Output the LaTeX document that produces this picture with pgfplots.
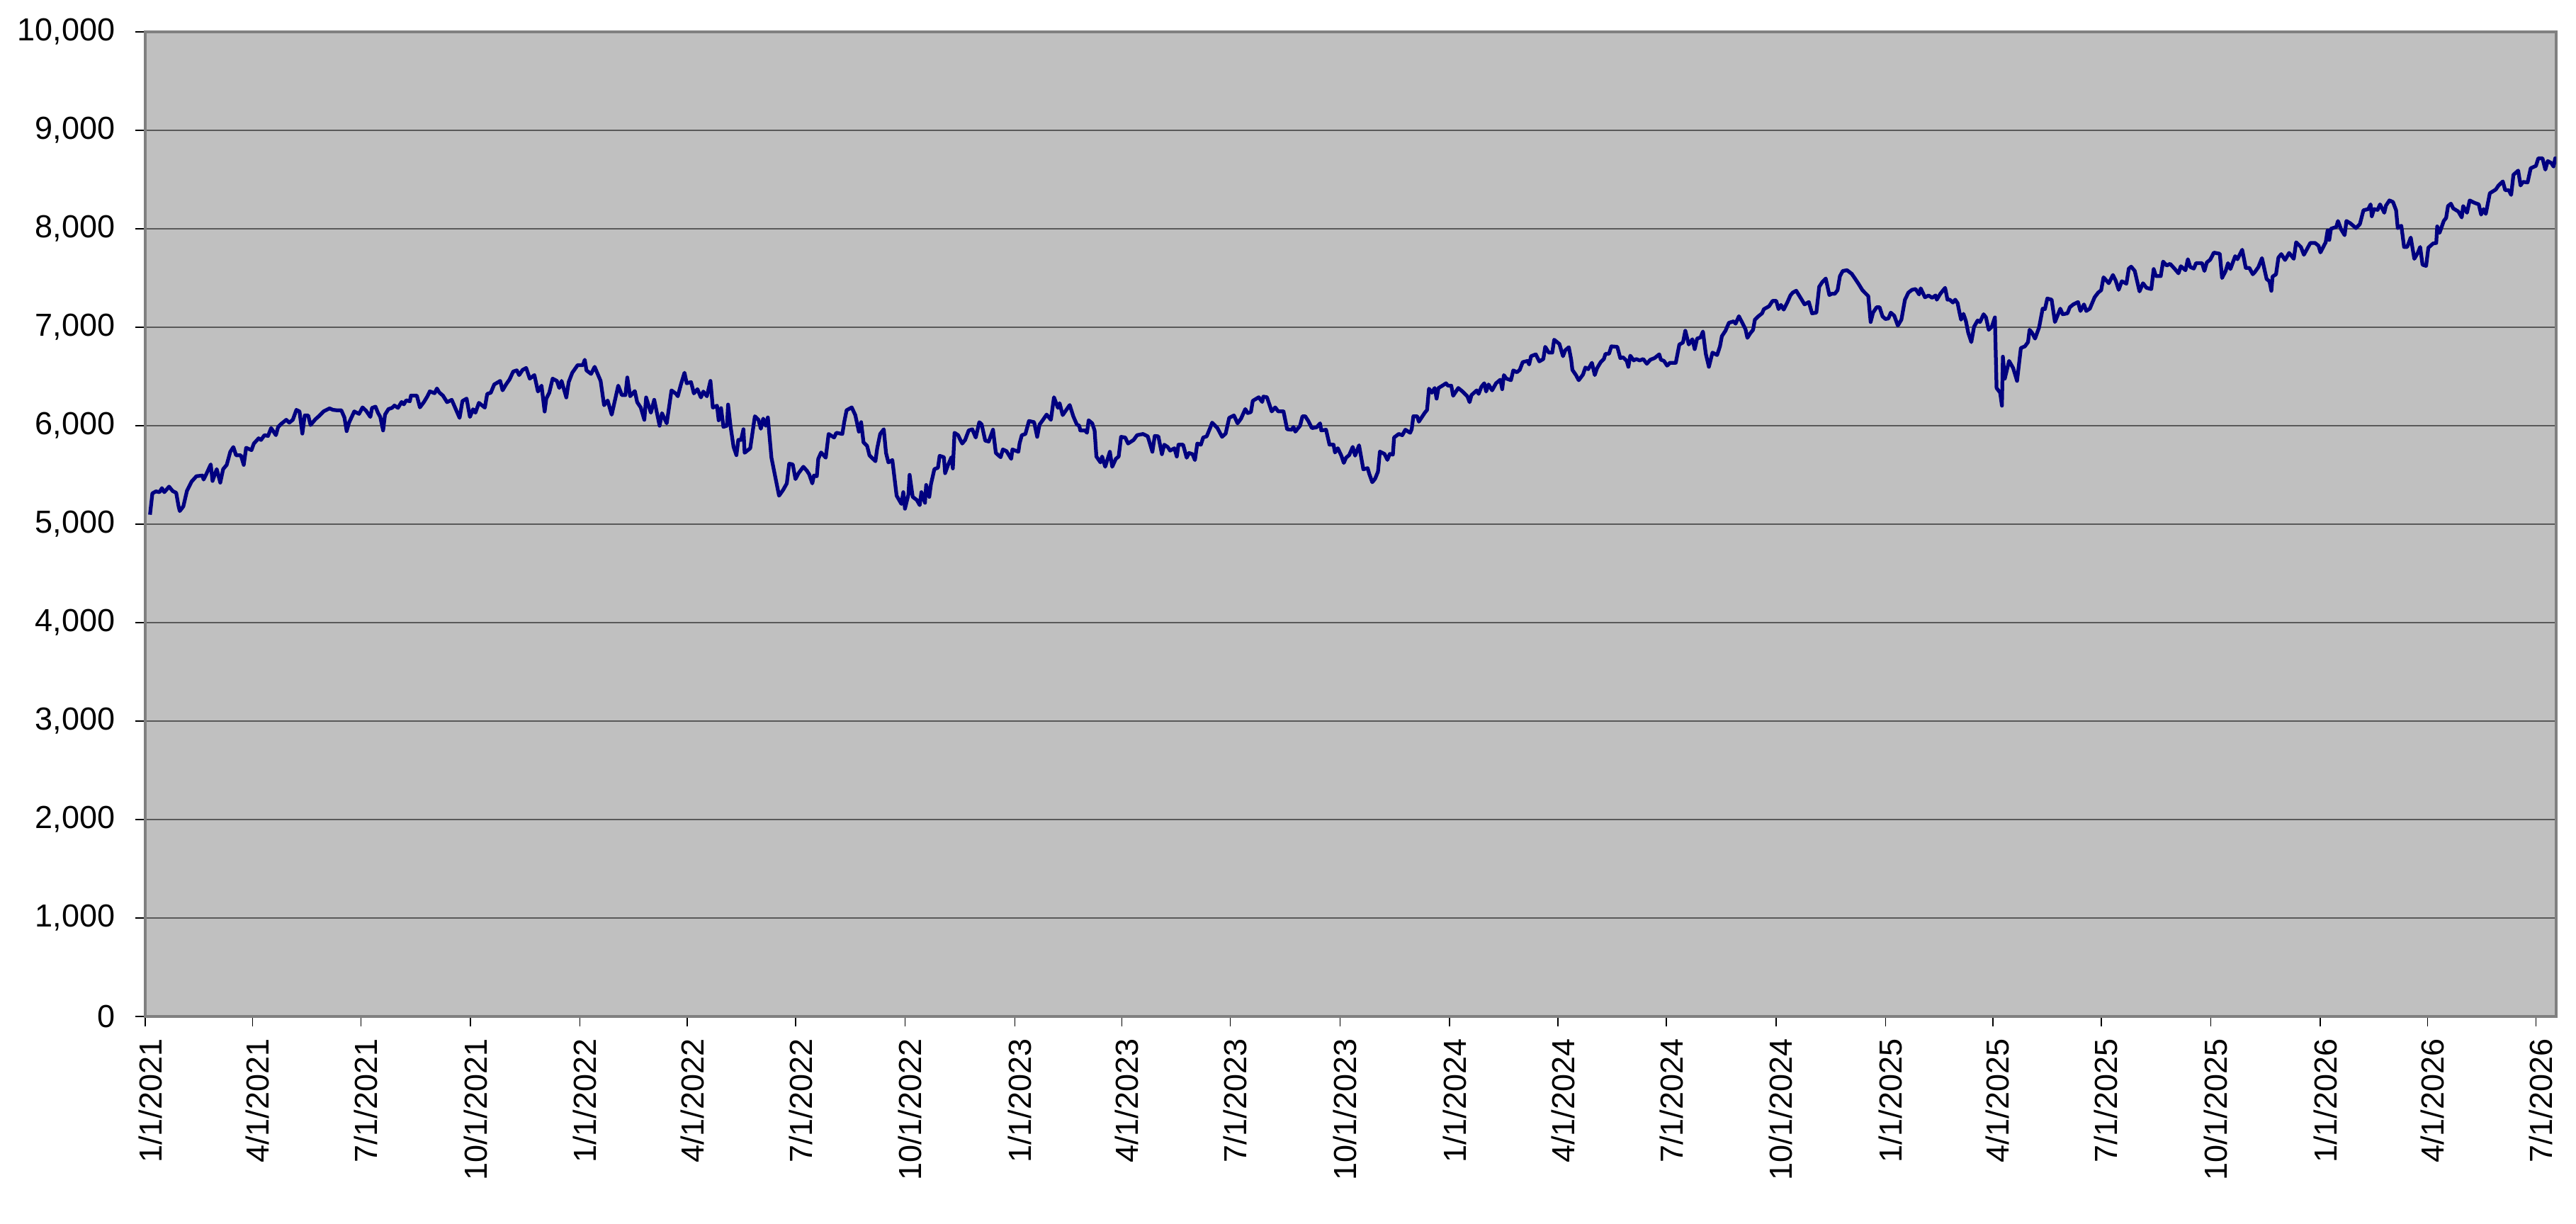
\documentclass[border=0pt]{standalone}
\usepackage{pgfplots}
\usepackage{pgfplotstable}
\pgfplotsset{compat=1.18}
\usepackage{fontspec}
\setmainfont{Liberation Sans}
\definecolor{plotbg}{RGB}{192,192,192}
\definecolor{framegray}{RGB}{128,128,128}
\definecolor{navyline}{RGB}{0,0,128}

\pgfplotstableread{
d v
4 5096
6 5313
9 5333
12 5325
14 5366
16 5325
20 5381
23 5337
26 5318
28 5181
29 5133
32 5181
35 5337
39 5434
43 5487
48 5494
49 5453
51 5501
55 5607
56.5 5439
60 5559
63 5422
65.4 5559
68.4 5602
71.4 5735
74 5783
76.3 5699
80.3 5699
82.7 5602
84.7 5776
89.2 5752
91.2 5819
95.2 5872
97.2 5855
100.1 5904
103.1 5896
105.7 5976
109.7 5904
111.6 5988
114 6017
118.4 6060
120.9 6031
123.9 6060
126.9 6161
129.5 6145
131.9 5920
133.9 6104
136.8 6104
138.8 6007
142.8 6065
145.7 6096
149.7 6145
154.7 6176
157.6 6161
160.6 6157
164.6 6157
167.2 6084
169.1 5945
171.1 6031
175.5 6145
179.5 6120
182.4 6186
185.4 6152
189 6089
190.4 6181
193.3 6193
195.3 6133
197.3 6089
199.7 5952
201.3 6113
204.2 6169
207.2 6181
209.2 6205
212.2 6181
215.2 6241
217.1 6217
219.1 6258
222.1 6248
223.1 6306
228 6306
230.6 6186
234 6241
237 6301
238.9 6349
242.9 6330
244.9 6378
246.9 6337
249.9 6306
253.4 6239
257.3 6263
260.3 6179
263.9 6079
266.3 6251
269.8 6275
272.6 6089
275.2 6167
277.2 6132
280.1 6232
285.1 6184
287.1 6323
290.1 6335
293 6419
298 6455
300 6359
302.9 6419
305.9 6471
308.9 6550
311.9 6562
313.9 6514
316.8 6567
319.8 6586
322.8 6478
326.7 6514
329.7 6347
332.7 6407
335.3 6144
336.7 6275
339.2 6335
342 6478
345.6 6455
347.6 6383
349.5 6455
353.5 6287
355.5 6443
358.5 6538
363 6615
367.4 6615
369 6670
370.4 6562
374.3 6526
377.3 6598
382.3 6455
385.2 6208
388.2 6256
391.6 6112
397.1 6407
400.1 6311
403.1 6311
404.7 6490
407.1 6299
411 6352
413 6239
416 6184
419 6060
420.5 6287
424.5 6132
427.3 6263
431.8 6000
433.8 6127
437.8 6024
441.8 6359
445.7 6323
447.1 6299
449.7 6419
452.7 6538
454.6 6431
458.2 6443
460.6 6328
463.6 6371
466.5 6287
468.5 6347
471.5 6299
474.5 6455
476.5 6184
480 6203
481.4 6055
483.4 6179
485.4 5988
488.4 6000
489.3 6215
491.3 6000
493.9 5785
496.3 5701
497.9 5856
500.2 5856
502.2 5964
503.2 5725
507.9 5771
511.8 6096
514.8 6060
516.8 5969
518.8 6072
520.8 6000
522.7 6084
525.7 5675
529.7 5434
532.1 5289
535.6 5349
538.6 5414
540.6 5614
543.6 5607
545.9 5458
548.5 5518
552.5 5583
555.5 5542
557.4 5506
560 5414
561.4 5494
563.8 5487
565 5663
567.4 5728
571.3 5675
573.7 5916
578.3 5880
580.2 5928
585.2 5916
586.8 6036
588.8 6157
593.1 6186
596.1 6108
599.1 5940
601 6036
603 5831
606 5795
608 5699
613 5639
614.5 5771
617 5916
620 5964
621.9 5723
623.9 5627
627.2 5651
630.8 5289
634.8 5205
636.4 5325
637.8 5157
640.7 5301
641.7 5501
644.3 5277
647.7 5246
650.2 5193
651.6 5325
654.6 5217
655.6 5398
658.2 5277
659.6 5405
662.5 5559
665.5 5573
666.9 5694
670.5 5680
671.5 5518
674 5602
676.8 5680
678 5566
679.4 5928
682.4 5904
684.3 5855
685.9 5819
688.3 5855
691.3 5952
694.3 5964
697.2 5880
700.2 6036
702.2 6012
705.2 5848
708.1 5839
711.7 5959
714.1 5723
718.1 5680
720 5759
723 5742
727 5663
728 5759
733 5735
734 5819
735.9 5904
738.9 5916
741.9 6048
746.2 6036
748.8 5887
750.8 6012
753.7 6060
756.7 6113
760.3 6060
762.9 6289
766.2 6181
767.6 6229
770.2 6108
776.1 6210
779.1 6096
782.1 6012
784.1 6000
785 5952
789 5952
790.6 5928
792 6055
795 6024
797 5952
798.5 5687
801.9 5627
803.3 5687
805.9 5583
809.8 5735
811.8 5583
814.8 5663
817.2 5687
819.2 5887
822.7 5880
825.1 5819
829.7 5855
832.7 5904
837.6 5916
841.6 5892
845.5 5735
847.5 5896
850.5 5892
853.5 5711
855.5 5807
858.4 5783
860.4 5747
864 5771
866 5687
867.4 5807
871.3 5807
874.3 5675
876.3 5723
879.2 5711
881.2 5651
883.2 5819
886.2 5807
888.2 5880
891.1 5892
893.7 5969
895.7 6031
900.1 5976
904 5887
907 5920
910 6080
914 6104
917 6024
919.9 6072
923.5 6169
925.5 6128
928.2 6138
929.8 6253
934.8 6289
937.7 6241
938.7 6296
941.7 6289
945.7 6145
948.6 6186
951.2 6145
955.6 6145
958.6 5964
962.5 5959
963.9 5988
965.5 5940
969.5 6000
971.5 6096
973.8 6096
976.4 6048
979.4 5976
983.3 5983
986.3 6024
987.3 5952
991.3 5959
994.2 5807
997.6 5807
998.8 5728
1001.2 5771
1004.2 5694
1006.2 5622
1008.1 5675
1010.7 5701
1013.7 5785
1015.7 5696
1019 5801
1022.6 5557
1026.2 5569
1027.6 5510
1030.1 5426
1032.5 5462
1034.9 5533
1036.5 5737
1040.4 5713
1042.8 5653
1044.8 5713
1047.4 5706
1048.4 5880
1052.3 5916
1055.3 5904
1057.9 5959
1061.9 5928
1063.2 5964
1064.6 6096
1067.8 6096
1069.2 6041
1074.2 6132
1076.1 6160
1077.7 6376
1080.1 6335
1082.5 6383
1084.1 6275
1085.7 6383
1089 6407
1092 6431
1093.6 6407
1096.4 6407
1098 6304
1102.3 6383
1105.9 6347
1109.9 6299
1111.8 6239
1113.4 6311
1117.8 6359
1119.4 6323
1121.7 6395
1124.1 6431
1125.7 6347
1127.7 6419
1130.7 6359
1134 6431
1137.6 6467
1139.2 6371
1140.6 6514
1142.6 6479
1146.5 6462
1148.5 6562
1151.5 6543
1153.9 6567
1156.4 6646
1160.4 6658
1161.8 6622
1163.4 6706
1167.4 6725
1170.3 6653
1173.7 6677
1175.3 6801
1178.3 6742
1181.2 6742
1182.8 6873
1187.2 6830
1190.2 6706
1192.1 6766
1195.1 6797
1197.1 6670
1198.1 6567
1201.1 6514
1203.4 6462
1207 6519
1209 6591
1211.4 6574
1214.5 6639
1216.9 6514
1218.9 6586
1221.9 6646
1224.5 6677
1225.9 6730
1228.8 6730
1230.8 6806
1235.8 6801
1238.3 6687
1240.7 6694
1243.7 6658
1245.1 6598
1246.7 6711
1249.6 6663
1251.6 6677
1254.6 6663
1257.6 6677
1260.6 6629
1263.5 6670
1267.1 6687
1271 6725
1272.4 6670
1275 6658
1277.6 6610
1280 6639
1284.9 6639
1287.9 6825
1290.9 6844
1292.9 6964
1295.8 6825
1298.8 6878
1300.8 6778
1302.8 6885
1305.7 6897
1307.7 6957
1310.1 6730
1312.7 6598
1315.7 6742
1319.6 6718
1322 6806
1323.6 6909
1326.6 6964
1329.5 7045
1333.5 7060
1335.1 7036
1337.9 7112
1341.4 7029
1343.4 6981
1345 6892
1347.4 6938
1349.8 6974
1351.3 7077
1354.3 7112
1357.3 7141
1358.9 7184
1363.2 7213
1366.2 7268
1369.2 7268
1371.2 7184
1373.2 7227
1375.5 7179
1378.7 7256
1381.1 7323
1383.1 7352
1386 7371
1390 7292
1393 7232
1396.6 7256
1399.3 7141
1402.9 7148
1405.3 7411
1407.9 7459
1410.8 7495
1413.8 7328
1415.8 7340
1418.4 7340
1420.7 7376
1422.7 7519
1425.1 7572
1428.7 7579
1432.6 7543
1435.6 7490
1438.6 7435
1441.6 7376
1444.5 7340
1446.5 7316
1448.5 7053
1450.5 7148
1453.5 7203
1456 7203
1458.4 7112
1460.8 7084
1463.4 7089
1465.4 7148
1468.3 7117
1471.3 7017
1474.3 7077
1477.3 7280
1480.2 7352
1483.2 7380
1486.2 7388
1489.2 7333
1490.5 7395
1494.1 7304
1497.1 7323
1500.1 7299
1503 7323
1504 7280
1507 7340
1511 7400
1513 7280
1514.9 7280
1517.5 7251
1519.5 7280
1521.5 7244
1523.1 7148
1524.4 7077
1526.4 7136
1528.4 7065
1530.4 6945
1533 6849
1535.3 7005
1538.3 7069
1540.3 7053
1543.3 7132
1545.3 7100
1547.6 6974
1550.2 7005
1552.8 7100
1554.2 6383
1557.2 6335
1558.7 6203
1559.5 6701
1561.1 6478
1564.7 6658
1568.1 6586
1571.4 6455
1574.6 6789
1578 6806
1580.6 6849
1581.9 6974
1583.9 6945
1586.5 6885
1589.9 6998
1592.9 7189
1594.8 7184
1596.8 7292
1600.4 7280
1603.2 7053
1607.7 7189
1609.7 7132
1613.7 7141
1615.7 7203
1618.6 7232
1622.6 7256
1624.6 7165
1627.6 7232
1629.5 7165
1632.5 7189
1636.5 7304
1639.5 7352
1642 7376
1644 7507
1648.4 7447
1651.9 7531
1654.3 7471
1656.7 7380
1659.3 7467
1663.2 7443
1665.2 7596
1667.2 7615
1670.2 7572
1674.2 7364
1677.1 7447
1680.1 7400
1684.1 7388
1686.1 7591
1688 7519
1692 7519
1694 7667
1697 7627
1699.9 7644
1703.9 7591
1706.9 7548
1708.9 7620
1712.8 7579
1714.8 7691
1716.8 7612
1719.8 7596
1721.7 7651
1724.7 7651
1726.7 7651
1728.7 7572
1730.7 7658
1733.6 7687
1736.6 7758
1741.6 7746
1743.5 7500
1746.5 7572
1748.5 7651
1750.5 7591
1754.5 7722
1756.4 7691
1760.4 7787
1763.4 7603
1766.4 7603
1769.3 7538
1771 7560
1774 7611
1777 7702
1780.9 7490
1783.3 7466
1784.9 7370
1785.9 7514
1788.8 7538
1790.8 7707
1793.2 7743
1796.4 7683
1799.8 7755
1803.7 7695
1805.7 7863
1809.7 7815
1812.2 7736
1817.6 7856
1821.6 7856
1824.5 7827
1826.1 7760
1830.5 7863
1832.1 7983
1833.5 7887
1834.9 8000
1839.4 8019
1840.8 8079
1843.4 7995
1846.4 7935
1847.9 8079
1851.3 8055
1855.9 8007
1859.2 8048
1862.2 8188
1866.2 8200
1868.2 8248
1869.2 8127
1871.1 8200
1874.1 8192
1876.1 8248
1879.7 8163
1881.1 8236
1884 8288
1887 8272
1889.6 8188
1891 8007
1894 8031
1896.3 7815
1898.9 7815
1901.9 7911
1904.9 7695
1907.8 7755
1909.8 7815
1911.8 7635
1914.8 7623
1916.7 7808
1920.7 7851
1923.3 7856
1924.1 8024
1926.1 7959
1929.6 8079
1931.6 8111
1933.2 8231
1935.6 8255
1937.6 8207
1941.9 8175
1944.7 8115
1945.9 8231
1949.1 8163
1951.4 8288
1955.4 8264
1959 8248
1961 8144
1963 8200
1964.9 8151
1968.3 8361
1973.3 8399
1975.6 8440
1979.2 8481
1981.2 8392
1984.2 8392
1986.2 8344
1988.1 8548
1992.1 8591
1994.1 8440
1996.1 8476
2000 8471
2002.6 8615
2007 8639
2009 8716
2012.5 8716
2014.9 8601
2016.9 8688
2019.9 8668
2021.8 8632
2023.2 8716
2024 8660
}\data

\begin{document}
\begin{tikzpicture}
\useasboundingbox (-41bp,-58.6bp) rectangle (686.2bp,287bp);
\begin{axis}[
  at={(0,0)}, anchor=south west,
  scale only axis,
  width=680.6bp, height=278bp,
  xmin=0, xmax=2024,
  ymin=0, ymax=10000,
  axis background/.style={fill=plotbg},
  axis line style={draw=framegray, line width=0.8bp},
  ymajorgrids,
  grid style={draw=black!65, line width=0.3bp},
  tick align=outside,
  tick pos=left,
  major tick length=2.8bp,
  tick style={draw=black, line width=0.3bp},
  ytick={0,1000,...,10000},
  scaled y ticks=false,
  yticklabel style={xshift=-2.2bp, /pgf/number format/.cd, 1000 sep={,}, assume math mode=true},
  xtick={0,90,181,273,365,455,546,638,730,820,911,1003,1095,1186,1277,1369,1461,1551,1642,1734,1826,1916,2007},
  xticklabels={1/1/2021,4/1/2021,7/1/2021,10/1/2021,1/1/2022,4/1/2022,7/1/2022,10/1/2022,1/1/2023,4/1/2023,7/1/2023,10/1/2023,1/1/2024,4/1/2024,7/1/2024,10/1/2024,1/1/2025,4/1/2025,7/1/2025,10/1/2025,1/1/2026,4/1/2026,7/1/2026},
  xticklabel style={rotate=90, anchor=east, yshift=-1.4bp},
  ticklabel style={font=\fontsize{9bp}{10.5bp}\selectfont},
]
\addplot[navyline, line width=1.05bp, line join=round, no marks] table[x=d, y=v] {\data};
\end{axis}
\end{tikzpicture}
\end{document}
